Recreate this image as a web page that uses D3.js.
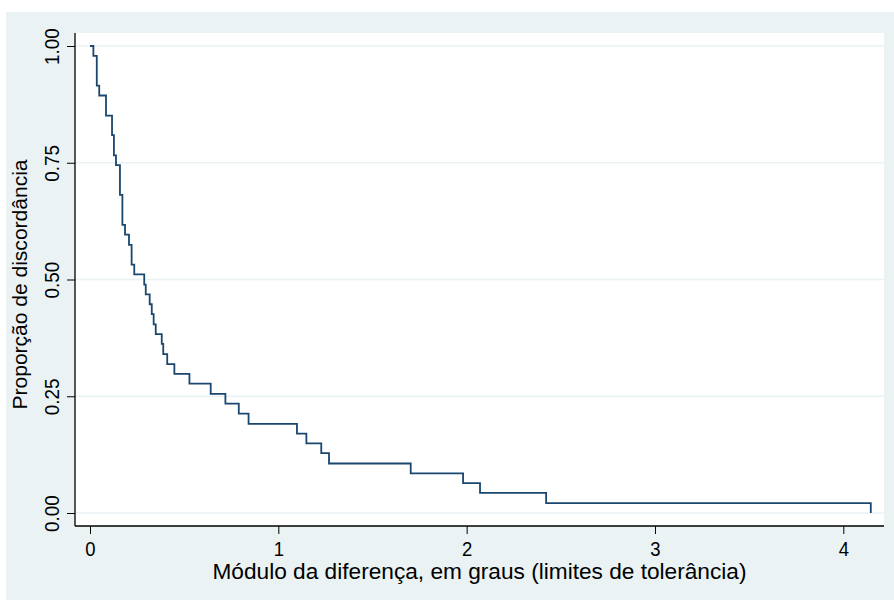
<!DOCTYPE html>
<html>
<head>
<meta charset="utf-8">
<script src="https://cdn.jsdelivr.net/npm/d3@7"></script>
<style>
  html, body { margin: 0; padding: 0; background: #ffffff; }
  svg { display: block; }
  text { font-family: "Liberation Sans", Arial, Helvetica, sans-serif; fill: #000; }
</style>
</head>
<body>
<svg id="chart" width="894" height="600"></svg>
<script>
// Step positions (absolute difference, degrees) and the proportion of
// discordant pairs remaining after each step.
const stepX = [0, 0.018, 0.036, 0.049, 0.085, 0.117, 0.127, 0.138, 0.159, 0.172,
  0.186, 0.207, 0.221, 0.235, 0.288, 0.296, 0.317, 0.328, 0.338, 0.349,
  0.381, 0.389, 0.410, 0.448, 0.528, 0.641, 0.719, 0.790, 0.842, 1.099,
  1.149, 1.228, 1.269, 1.703, 1.981, 2.071, 2.422, 4.146];
const stepY = [1.000, 0.979, 0.915, 0.894, 0.851, 0.809, 0.766, 0.745, 0.681, 0.617,
  0.596, 0.574, 0.532, 0.511, 0.489, 0.468, 0.447, 0.426, 0.404, 0.383,
  0.362, 0.340, 0.319, 0.298, 0.277, 0.255, 0.234, 0.213, 0.191, 0.170,
  0.149, 0.128, 0.106, 0.085, 0.064, 0.043, 0.021, 0.000];

const xTicks = [0, 1, 2, 3, 4];
const yTicks = [0, 0.25, 0.5, 0.75, 1];
const xTitle = "Módulo da diferença, em graus (limites de tolerância)";
const yTitle = "Proporção de discordância";

const W = 894, H = 600;
const svg = d3.select("#chart");

// Outer graph region
svg.append("rect").attr("x", 6).attr("y", 12).attr("width", W - 6).attr("height", H - 12)
  .attr("fill", "#eaf2f3");

// Plot region
const plot = { left: 75, right: 884, top: 33, bottom: 526 };
svg.append("rect")
  .attr("x", plot.left).attr("y", plot.top)
  .attr("width", plot.right - plot.left).attr("height", plot.bottom - plot.top)
  .attr("fill", "#ffffff");

const x = d3.scaleLinear().domain([0, 4]).range([90, 843.3]);
const y = d3.scaleLinear().domain([0, 1]).range([513, 46]);

// Horizontal grid lines
svg.append("g").selectAll("line").data(yTicks).join("line")
  .attr("x1", plot.left).attr("x2", plot.right)
  .attr("y1", d => y(d)).attr("y2", d => y(d))
  .attr("stroke", "#eaf2f3").attr("stroke-width", 1.5);

// Survivor-type step line
const line = d3.line()
  .x((d, i) => x(stepX[i]))
  .y((d, i) => y(stepY[i]))
  .curve(d3.curveStepAfter);
svg.append("path")
  .attr("d", line(stepX))
  .attr("fill", "none")
  .attr("stroke", "#1a476f")
  .attr("stroke-width", 1.8);

// X axis
const xAxis = svg.append("g").attr("transform", `translate(0,${plot.bottom})`)
  .call(d3.axisBottom(x).tickValues(xTicks).tickFormat(d3.format("d")).tickSize(8).tickSizeOuter(0));
xAxis.select(".domain").remove();
xAxis.append("line").attr("x1", plot.left).attr("x2", plot.right).attr("y1", 0).attr("y2", 0)
  .attr("stroke", "#000").attr("stroke-width", 1.3);
xAxis.selectAll(".tick line").attr("stroke", "#000").attr("stroke-width", 1);
xAxis.selectAll(".tick text")
  .attr("y", 0)
  .attr("dy", 0)
  .attr("transform", "translate(0,30) scale(0.88,1)")
  .style("font-family", "'Liberation Sans', Arial, sans-serif")
  .style("font-size", "21px")
  .attr("fill", "#000");

// Y axis
const yAxis = svg.append("g").attr("transform", `translate(${plot.left},0)`)
  .call(d3.axisLeft(y).tickValues(yTicks).tickFormat(d3.format(".2f")).tickSize(8).tickSizeOuter(0));
yAxis.select(".domain").remove();
yAxis.append("line").attr("x1", 0).attr("x2", 0).attr("y1", plot.top).attr("y2", plot.bottom)
  .attr("stroke", "#000").attr("stroke-width", 1.3);
yAxis.selectAll(".tick line").attr("stroke", "#000").attr("stroke-width", 1);
yAxis.selectAll(".tick text")
  .attr("x", 0).attr("dy", 0)
  .attr("text-anchor", "middle")
  .attr("transform", "translate(-16,0) rotate(-90) scale(0.9,1)")
  .style("font-family", "'Liberation Sans', Arial, sans-serif")
  .style("font-size", "21px")
  .attr("fill", "#000");

// Axis titles
svg.append("text")
  .attr("x", (plot.left + plot.right) / 2).attr("y", 579)
  .attr("text-anchor", "middle")
  .style("font-size", "21.5px")
  .attr("textLength", 534).attr("lengthAdjust", "spacingAndGlyphs")
  .text(xTitle);

svg.append("text")
  .attr("transform", `translate(27,${(plot.top + plot.bottom) / 2 + 5}) rotate(-90)`)
  .attr("text-anchor", "middle")
  .style("font-size", "20.5px")
  .attr("textLength", 250).attr("lengthAdjust", "spacingAndGlyphs")
  .text(yTitle);
</script>
</body>
</html>
